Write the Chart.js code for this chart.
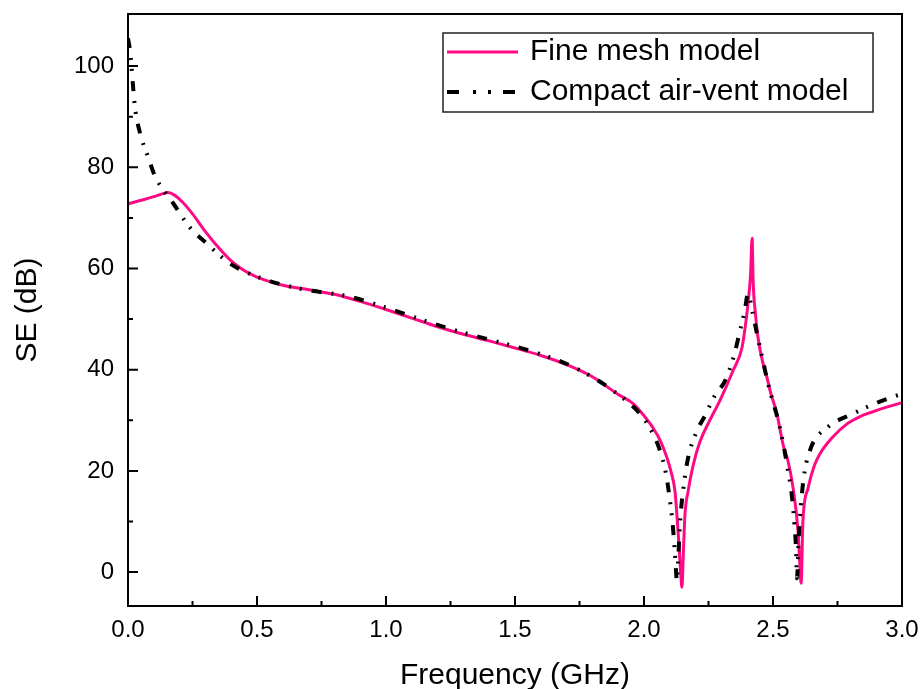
<!DOCTYPE html>
<html><head><meta charset="utf-8">
<script src="https://cdn.jsdelivr.net/npm/chart.js@4.4.0/dist/chart.umd.min.js"></script>
<style>html,body{margin:0;padding:0;background:#fff;}#wrap{width:924px;height:689px;}</style>
</head><body><div id="wrap"><canvas id="c" width="924" height="689"></canvas></div>
<script>
const seriesNames = ['Fine mesh model', 'Compact air-vent model'];

const fineFreq = [0.00,0.03,0.06,0.10,0.13,0.155,0.18,0.21,0.25,0.30,0.35,0.40,0.45,0.50,0.55,0.60,0.70,0.80,0.90,1.00,1.10,1.20,1.30,1.40,1.50,1.60,1.70,1.80,1.90,1.958,2.00,2.035,2.065,2.089,2.105,2.12,2.132,2.141,2.147,2.153,2.159,2.171,2.19,2.215,2.25,2.295,2.345,2.38,2.395,2.405,2.413,2.419,2.423,2.432,2.442,2.46,2.477,2.49,2.515,2.54,2.558,2.578,2.597,2.604,2.609,2.616,2.636,2.66,2.682,2.73,2.787,2.84,2.876,2.94,3.00];
const fineSE   = [72.8,73.2,73.6,74.2,74.7,75.0,74.5,73.2,70.8,67.3,64.2,61.5,59.6,58.3,57.4,56.7,55.8,54.9,53.5,51.9,50.2,48.5,47.0,45.7,44.3,42.8,41.0,38.6,35.1,33.3,30.9,28.5,25.8,22.6,19.8,16.0,8.1,1.0,-3.0,4.5,11.5,16.0,21.0,25.5,29.5,34.0,39.8,44.4,49.5,54.0,58.8,66.0,57.5,51.0,46.3,41.5,38.4,35.6,31.3,25.0,22.0,16.6,8.1,1.5,-2.2,10.1,16.6,21.0,23.4,26.6,29.3,30.8,31.5,32.6,33.5];

const compactFreq = [0.00,0.008,0.027,0.047,0.078,0.105,0.136,0.175,0.24,0.306,0.395,0.51,0.667,0.853,1.016,1.178,1.28,1.442,1.604,1.752,1.895,1.984,2.03,2.062,2.085,2.101,2.112,2.12,2.128,2.134,2.14,2.155,2.171,2.205,2.236,2.275,2.314,2.35,2.372,2.39,2.403,2.41,2.422,2.438,2.46,2.481,2.527,2.555,2.574,2.583,2.589,2.593,2.60,2.616,2.643,2.709,2.81,2.876,2.98,3.00];
const compactSE   = [105.5,103.0,91.9,86.7,82.0,78.2,75.6,72.9,68.1,64.9,61.0,58.2,56.0,54.5,52.0,49.2,47.6,45.4,43.0,39.9,35.3,31.3,27.8,24.0,19.5,14.0,9.0,3.6,-1.8,4.0,10.0,17.5,22.6,27.9,30.9,34.9,37.8,43.0,47.7,51.5,55.0,54.0,51.0,47.1,42.0,37.2,28.5,21.0,14.7,9.5,4.8,-1.2,7.0,17.4,24.0,28.5,31.3,32.9,34.9,35.2];

const xTickValues = [0, 0.5, 1.0, 1.5, 2.0, 2.5, 3.0];
const xTickLabels = ['0.0', '0.5', '1.0', '1.5', '2.0', '2.5', '3.0'];
const xMinorTicks = [0.25, 0.75, 1.25, 1.75, 2.25, 2.75];
const yTickValues = [0, 20, 40, 60, 80, 100];
const yTickLabels = ['0', '20', '40', '60', '80', '100'];
const yMinorTicks = [10, 30, 50, 70, 90];

const FONT = "'Liberation Sans', Arial, sans-serif";
const PINK = '#ff0a84';
const LEGEND_DASH = [[], [12, 14, 3, 12, 3, 12]];

const framePlugin = {
  id: 'frame',
  afterLayout(chart) {
    const lg = chart.legend, ca = chart.chartArea;
    if (!lg) return;
    const w = lg.width, h = lg.height;
    lg.left = ca.left + 309; lg.top = ca.top + 13;
    lg.right = lg.left + w; lg.bottom = lg.top + h;
  },
  afterDraw(chart) {
    const ctx = chart.ctx, ca = chart.chartArea;
    const xs = chart.scales.x, ys = chart.scales.y;
    ctx.save();
    ctx.strokeStyle = '#000';
    ctx.lineWidth = 2;
    ctx.strokeRect(ca.left, ca.top, ca.right - ca.left, ca.bottom - ca.top);
    ctx.beginPath();
    const tick = (vals, len) => {
      vals.forEach(v => { const px = xs.getPixelForValue(v); ctx.moveTo(px, ca.bottom); ctx.lineTo(px, ca.bottom - len); });
    };
    tick(xTickValues, 10); tick(xMinorTicks, 5);
    const ytick = (vals, len) => {
      vals.forEach(v => { const py = ys.getPixelForValue(v); ctx.moveTo(ca.left, py); ctx.lineTo(ca.left + len, py); });
    };
    ytick(yTickValues, 10); ytick(yMinorTicks, 5);
    ctx.stroke();
    // legend samples
    const lg = chart.legend;
    if (lg && lg.legendHitBoxes) {
      lg.legendHitBoxes.forEach((hb, i) => {
        const ds = chart.data.datasets[i];
        const y = hb.top + 15;
        ctx.beginPath();
        ctx.setLineDash(LEGEND_DASH[i]);
        ctx.lineCap = 'butt';
        ctx.lineWidth = ds.borderWidth;
        ctx.strokeStyle = ds.borderColor;
        ctx.moveTo(hb.left, y);
        ctx.lineTo(hb.left + 71, y);
        ctx.stroke();
      });
      ctx.setLineDash([]);
    }
    // legend frame
    ctx.lineWidth = 1.5;
    ctx.strokeStyle = '#222';
    ctx.strokeRect(ca.left + 315, ca.top + 19, (ca.right - 29) - (ca.left + 315), 79);
    ctx.restore();
  }
};

new Chart(document.getElementById('c'), {
  type: 'line',
  data: {
    datasets: [
      {
        label: seriesNames[0],
        data: fineFreq.map((f, i) => ({x: f, y: fineSE[i]})),
        borderColor: PINK, backgroundColor: PINK,
        borderWidth: 3, pointRadius: 0, fill: false,
        cubicInterpolationMode: 'monotone', order: 2
      },
      {
        label: seriesNames[1],
        data: compactFreq.map((f, i) => ({x: f, y: compactSE[i]})),
        borderColor: '#000', backgroundColor: '#000',
        borderWidth: 4, borderDash: [10, 10, 2, 9, 2, 10], pointRadius: 0, fill: false,
        cubicInterpolationMode: 'monotone', order: 1
      }
    ]
  },
  options: {
    responsive: false, animation: false, devicePixelRatio: 1,
    layout: { padding: { top: 14, right: 22, left: 0, bottom: 0 } },
    plugins: {
      tooltip: { enabled: false },
      legend: {
        position: 'chartArea', align: 'start',
        labels: {
          usePointStyle: true, pointStyle: 'line', pointStyleWidth: 68,
          font: { family: FONT, size: 30 }, color: '#000', padding: 10,
          sort: (a, b) => a.datasetIndex - b.datasetIndex,
          generateLabels: (chart) => {
            const items = Chart.defaults.plugins.legend.labels.generateLabels(chart);
            items.forEach(it => { it.lineWidth = 0; it.strokeStyle = 'rgba(0,0,0,0)'; it.fillStyle = 'rgba(0,0,0,0)'; });
            return items;
          }
        }
      }
    },
    scales: {
      x: {
        type: 'linear', min: 0, max: 3,
        afterBuildTicks: s => { s.ticks = xTickValues.map(v => ({value: v})); },
        afterFit: s => { s.height = 83; s.paddingLeft = 0; s.paddingRight = 0; },
        ticks: {
          autoSkip: false, maxRotation: 0, padding: 10, color: '#000',
          font: { family: FONT, size: 24 },
          callback: v => xTickLabels[xTickValues.indexOf(v)]
        },
        grid: { display: false, drawTicks: false },
        border: { display: false },
        title: { display: true, text: 'Frequency (GHz)', color: '#000',
          font: { family: FONT, size: 30, lineHeight: 0.9 }, padding: { top: 0, bottom: 0 } }
      },
      y: {
        min: -6.7, max: 110.3,
        afterBuildTicks: s => { s.ticks = yTickValues.map(v => ({value: v})); },
        afterFit: s => { s.width = 128; s.paddingTop = 0; s.paddingBottom = 0; },
        ticks: {
          autoSkip: false, padding: 14, color: '#000',
          font: { family: FONT, size: 24 },
          callback: v => yTickLabels[yTickValues.indexOf(v)]
        },
        grid: { display: false, drawTicks: false },
        border: { display: false },
        title: { display: true, text: 'SE (dB)', color: '#000',
          font: { family: FONT, size: 30, lineHeight: 1.0 }, padding: { top: 13, bottom: 0 } }
      }
    }
  },
  plugins: [framePlugin]
});
</script></body></html>
